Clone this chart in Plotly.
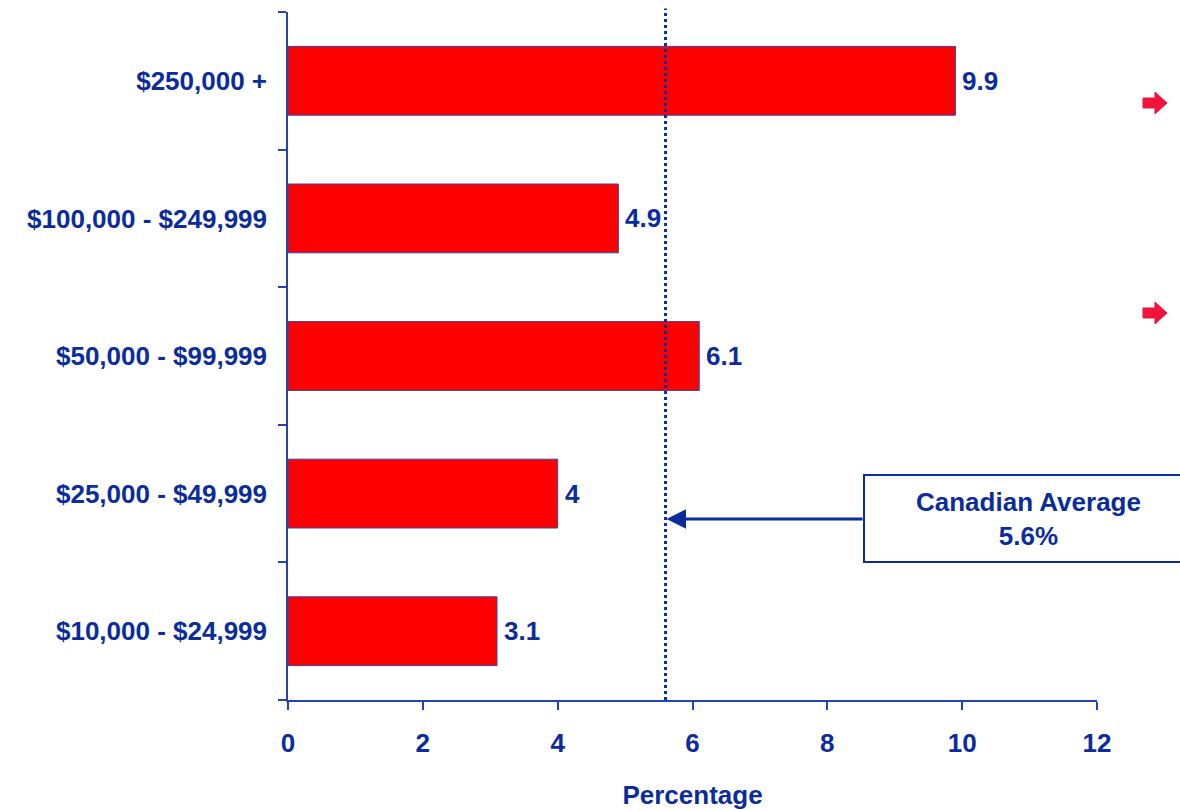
import plotly.graph_objects as go

# Income groups, bottom to top, and the share (%) for each
income_groups = [
    "$10,000 - $24,999",
    "$25,000 - $49,999",
    "$50,000 - $99,999",
    "$100,000 - $249,999",
    "$250,000 +",
]
percentages = [3.1, 4.0, 6.1, 4.9, 9.9]
value_labels = ["3.1", "4", "6.1", "4.9", "9.9"]
canadian_average = 5.6
x_ticks = [0, 2, 4, 6, 8, 10, 12]

BLUE = "#0A2C9C"
AXIS_BLUE = "#2444B0"
RED = "#FF0000"
ARROW_RED = "#F0143C"
FONT = "Liberation Sans, Arial, sans-serif"
FS = 26

W, H = 1180, 810
L, R, T, B = 288, 83, 12, 110
PW, PH = W - L - R, H - T - B


def px(x):
    return (x - L) / PW


def py(y):
    return (H - B - y) / PH


fig = go.Figure()
fig.add_trace(go.Bar(
    y=income_groups,
    x=percentages,
    orientation="h",
    width=0.5,
    marker=dict(color=RED, line=dict(color="#3344A8", width=1)),
))

# Value labels just past the end of each bar
for g, v, t in zip(income_groups, percentages, value_labels):
    fig.add_annotation(x=v, y=g, xref="x", yref="y", text="<b>%s</b>" % t,
                       showarrow=False, xanchor="left", yanchor="middle",
                       xshift=5, font=dict(family=FONT, size=FS, color=BLUE))

# Dotted reference line for the national average
fig.add_shape(type="line", xref="x", yref="paper",
              x0=canadian_average, x1=canadian_average, y0=0, y1=1.005,
              line=dict(color="#0033A0", width=3, dash="dot"))

# Callout box
fig.add_shape(type="rect", xref="paper", yref="paper",
              x0=px(864), x1=px(1195), y0=py(562), y1=py(475),
              line=dict(color=BLUE, width=2), fillcolor="white")
fig.add_annotation(xref="paper", yref="paper", x=px(1028), y=py(519),
                   xanchor="center", yanchor="middle",
                   text="<b>Canadian Average</b><br><b>%.1f%%</b>" % canadian_average,
                   showarrow=False, align="center",
                   font=dict(family=FONT, size=FS, color=BLUE))

# Pointer from the callout to the average line
fig.add_annotation(xref="x", yref="paper", x=canadian_average, y=py(519),
                   ax=864 - (L + canadian_average / 12 * PW), ay=0,
                   text="", showarrow=True, arrowhead=2, arrowsize=1.3,
                   arrowwidth=3, arrowcolor=BLUE, standoff=1)

# Small red pointer arrows in the right margin
for cy in (103, 313):
    pts = [(1143, cy - 5), (1155, cy - 5), (1155, cy - 11), (1167, cy),
           (1155, cy + 11), (1155, cy + 5), (1143, cy + 5)]
    path = "M " + " L ".join("%.5f,%.5f" % (px(a), py(b)) for a, b in pts) + " Z"
    fig.add_shape(type="path", xref="paper", yref="paper", path=path,
                  fillcolor=ARROW_RED, line=dict(color=ARROW_RED, width=1))

fig.update_layout(
    width=W, height=H,
    margin=dict(l=L, r=R, t=T, b=B, autoexpand=False),
    paper_bgcolor="white", plot_bgcolor="white",
    showlegend=False,
    bargap=0.5,
    font=dict(family=FONT, color=BLUE),
)
fig.update_xaxes(
    range=[0, 12], tickvals=x_ticks,
    ticktext=["<b>%d</b>" % v for v in x_ticks],
    tickfont=dict(family=FONT, size=FS, color=BLUE),
    showline=True, linecolor=AXIS_BLUE, linewidth=1.5,
    ticks="outside", ticklen=8, tickcolor=AXIS_BLUE, tickwidth=1.5,
    ticklabelstandoff=11,
    showgrid=False, zeroline=False, automargin=False,
    title=dict(text="<b>Percentage</b>", standoff=30,
               font=dict(family=FONT, size=FS, color=BLUE)),
)
fig.update_yaxes(
    type="category", categoryorder="array", categoryarray=income_groups,
    range=[-0.5, 4.5],
    tickvals=income_groups,
    ticktext=["<b>%s</b>" % g for g in income_groups],
    tickson="boundaries",
    tickfont=dict(family=FONT, size=FS, color=BLUE),
    showline=True, linecolor=AXIS_BLUE, linewidth=1.5,
    ticks="outside", ticklen=8, tickcolor=AXIS_BLUE, tickwidth=1.5,
    ticklabelstandoff=14,
    showgrid=False, zeroline=False, automargin=False,
)

fig.write_html("out.html")
